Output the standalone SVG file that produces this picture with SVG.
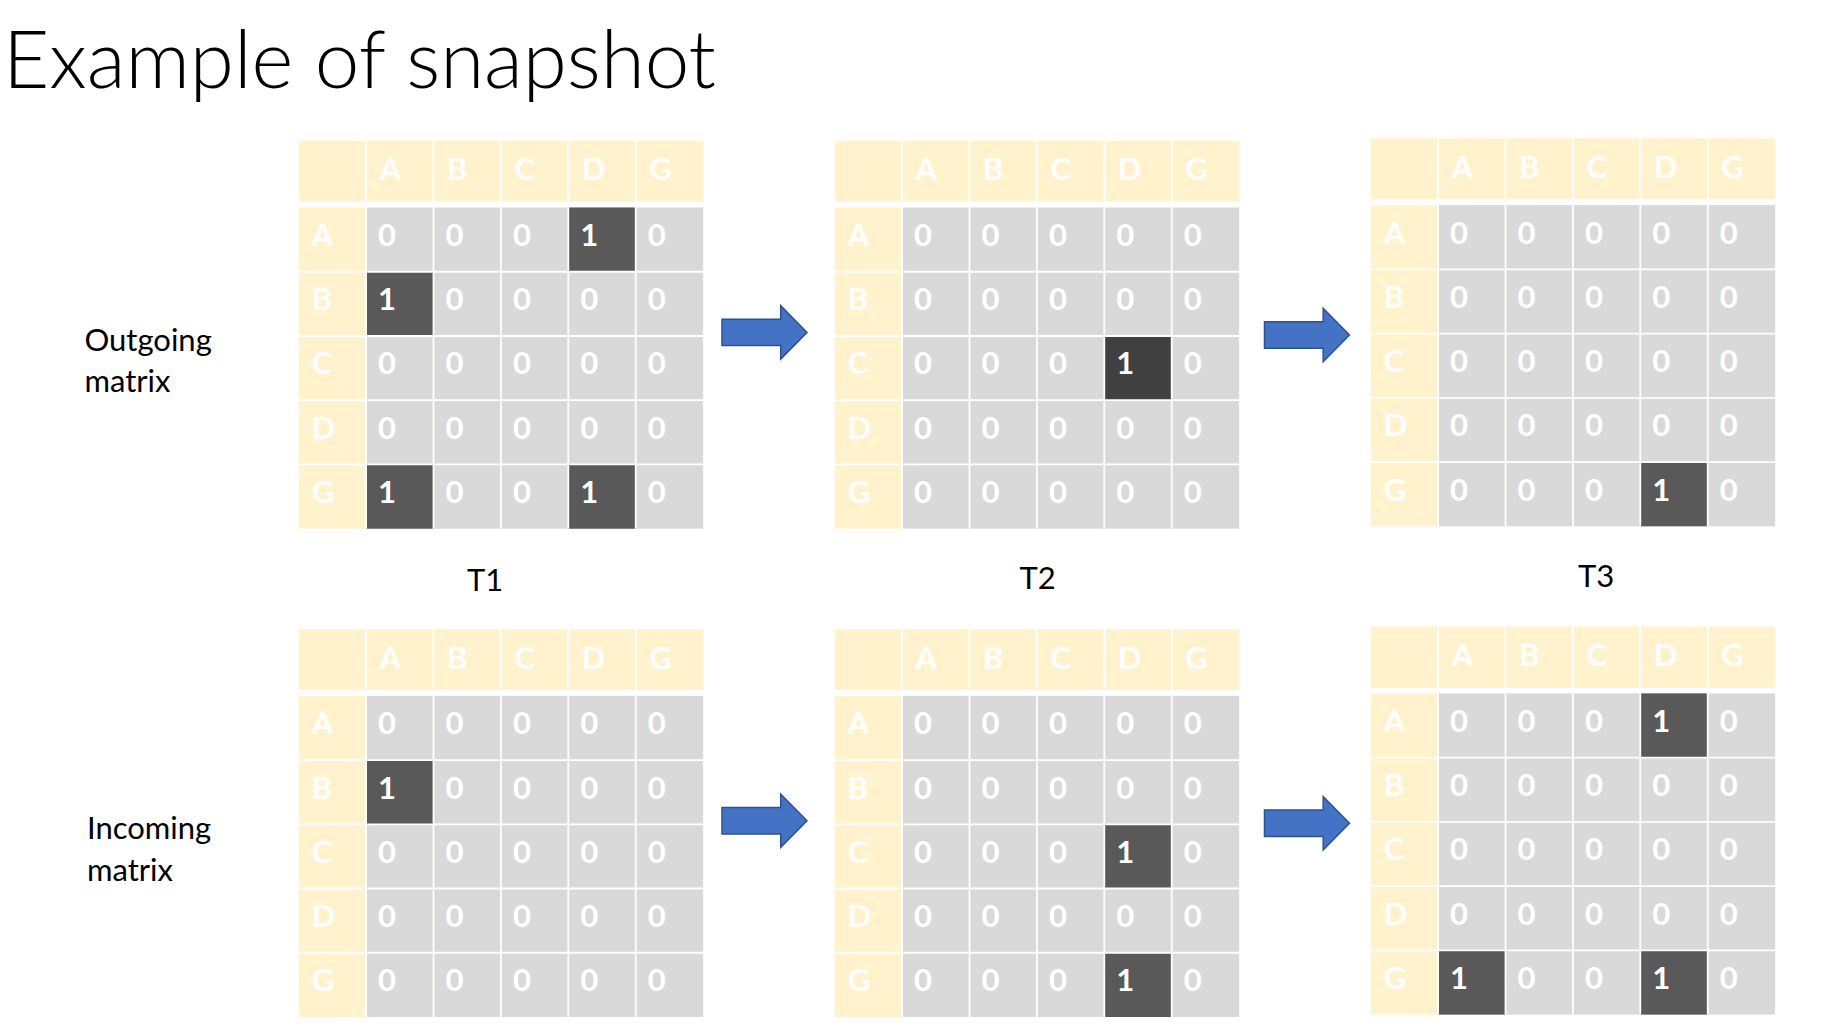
<svg xmlns="http://www.w3.org/2000/svg" xmlns:xlink="http://www.w3.org/1999/xlink" width="1840" height="1035" viewBox="0 0 1840 1035">
<style>
  .yl { fill: #FFF2CC; }
  .gr { fill: #D9D9D9; }
  .dk { fill: #595959; }
  .dk2 { fill: #404040; }
  .gl { stroke: #FFFFFF; stroke-width: 1.8; fill: none; }
  .t { font-family: "Lato", "Open Sans", "Liberation Sans", sans-serif; font-weight: 700; font-size: 31px; fill: #FFFFFF; }
  .lbl { font-family: "Lato", "Open Sans", "Liberation Sans", sans-serif; font-weight: 400; font-size: 31px; fill: #000000; }
  .title { font-family: "Lato", "Open Sans", "Liberation Sans", sans-serif; font-weight: 300; font-size: 80px; fill: #000000; }
  .arrow { fill: #4472C4; stroke: #2F528F; stroke-width: 1.5; }
</style>
<defs>
  <g id="bg">
    <rect class="yl" x="0" y="0" width="404.4" height="61"/>
    <rect class="yl" x="0" y="66.8" width="67.4" height="321.2"/>
    <rect class="gr" x="67.4" y="66.8" width="337" height="321.2"/>
  </g>
  <g id="grid">
    <path class="gl" d="M67.4,0V388M134.8,0V388M202.2,0V388M269.6,0V388M337,0V388M0,131.04H404.4M0,195.28H404.4M0,259.52H404.4M0,323.76H404.4"/>
  </g>
  <g id="labels">
    <text class="t" x="80.9" y="39.5">A</text>
    <text class="t" x="148.3" y="39.5">B</text>
    <text class="t" x="215.7" y="39.5">C</text>
    <text class="t" x="283.1" y="39.5">D</text>
    <text class="t" x="350.5" y="39.5">G</text>
    <text class="t" x="13" y="105.3">A</text>
    <text class="t" x="13" y="169.5">B</text>
    <text class="t" x="13" y="233.8">C</text>
    <text class="t" x="13" y="298">D</text>
    <text class="t" x="13" y="362.3">G</text>
  </g>
  <path id="arr" d="M0,-13.2H58.7V-26.7L85,0L58.7,26.7V13.2H0Z"/>
</defs>

<g id="title">
  <text class="title" x="3" y="87.5" textLength="713" lengthAdjust="spacing">Example of snapshot</text>
</g>

<g id="label-outgoing">
  <text class="lbl" x="84.5" y="350.7">Outgoing</text>
  <text class="lbl" x="84.5" y="391.7">matrix</text>
</g>
<g id="label-incoming">
  <text class="lbl" x="87" y="839.3">Incoming</text>
  <text class="lbl" x="87" y="880.7">matrix</text>
</g>

<g id="label-t1"><text class="lbl" x="467" y="591">T1</text></g>
<g id="label-t2"><text class="lbl" x="1019.5" y="589">T2</text></g>
<g id="label-t3"><text class="lbl" x="1578" y="587">T3</text></g>

<!-- Outgoing T1 -->
<g id="out-t1" transform="translate(298.7,140.7)">
  <use xlink:href="#bg" href="#bg"/>
  <rect class="dk" x="269.6" y="66.8" width="67.4" height="64.24"/>
  <rect class="dk" x="67.4" y="131.04" width="67.4" height="64.24"/>
  <rect class="dk" x="67.4" y="323.76" width="67.4" height="64.24"/>
  <rect class="dk" x="269.6" y="323.76" width="67.4" height="64.24"/>
  <use xlink:href="#grid" href="#grid"/>
  <use xlink:href="#labels" href="#labels"/>
  <text class="t" x="79.4" y="105.3">0</text><text class="t" x="146.8" y="105.3">0</text><text class="t" x="214.2" y="105.3">0</text><text class="t" x="281.6" y="105.3">1</text><text class="t" x="349" y="105.3">0</text>
  <text class="t" x="79.4" y="169.5">1</text><text class="t" x="146.8" y="169.5">0</text><text class="t" x="214.2" y="169.5">0</text><text class="t" x="281.6" y="169.5">0</text><text class="t" x="349" y="169.5">0</text>
  <text class="t" x="79.4" y="233.8">0</text><text class="t" x="146.8" y="233.8">0</text><text class="t" x="214.2" y="233.8">0</text><text class="t" x="281.6" y="233.8">0</text><text class="t" x="349" y="233.8">0</text>
  <text class="t" x="79.4" y="298">0</text><text class="t" x="146.8" y="298">0</text><text class="t" x="214.2" y="298">0</text><text class="t" x="281.6" y="298">0</text><text class="t" x="349" y="298">0</text>
  <text class="t" x="79.4" y="362.3">1</text><text class="t" x="146.8" y="362.3">0</text><text class="t" x="214.2" y="362.3">0</text><text class="t" x="281.6" y="362.3">1</text><text class="t" x="349" y="362.3">0</text>
</g>

<!-- Outgoing T2 -->
<g id="out-t2" transform="translate(834.7,140.7)">
  <use xlink:href="#bg" href="#bg"/>
  <rect class="dk2" x="269.6" y="195.28" width="67.4" height="64.24"/>
  <use xlink:href="#grid" href="#grid"/>
  <use xlink:href="#labels" href="#labels"/>
  <text class="t" x="79.4" y="105.3">0</text><text class="t" x="146.8" y="105.3">0</text><text class="t" x="214.2" y="105.3">0</text><text class="t" x="281.6" y="105.3">0</text><text class="t" x="349" y="105.3">0</text>
  <text class="t" x="79.4" y="169.5">0</text><text class="t" x="146.8" y="169.5">0</text><text class="t" x="214.2" y="169.5">0</text><text class="t" x="281.6" y="169.5">0</text><text class="t" x="349" y="169.5">0</text>
  <text class="t" x="79.4" y="233.8">0</text><text class="t" x="146.8" y="233.8">0</text><text class="t" x="214.2" y="233.8">0</text><text class="t" x="281.6" y="233.8">1</text><text class="t" x="349" y="233.8">0</text>
  <text class="t" x="79.4" y="298">0</text><text class="t" x="146.8" y="298">0</text><text class="t" x="214.2" y="298">0</text><text class="t" x="281.6" y="298">0</text><text class="t" x="349" y="298">0</text>
  <text class="t" x="79.4" y="362.3">0</text><text class="t" x="146.8" y="362.3">0</text><text class="t" x="214.2" y="362.3">0</text><text class="t" x="281.6" y="362.3">0</text><text class="t" x="349" y="362.3">0</text>
</g>

<!-- Outgoing T3 -->
<g id="out-t3" transform="translate(1370.7,138.3)">
  <use xlink:href="#bg" href="#bg"/>
  <rect class="dk" x="269.6" y="323.76" width="67.4" height="64.24"/>
  <use xlink:href="#grid" href="#grid"/>
  <use xlink:href="#labels" href="#labels"/>
  <text class="t" x="79.4" y="105.3">0</text><text class="t" x="146.8" y="105.3">0</text><text class="t" x="214.2" y="105.3">0</text><text class="t" x="281.6" y="105.3">0</text><text class="t" x="349" y="105.3">0</text>
  <text class="t" x="79.4" y="169.5">0</text><text class="t" x="146.8" y="169.5">0</text><text class="t" x="214.2" y="169.5">0</text><text class="t" x="281.6" y="169.5">0</text><text class="t" x="349" y="169.5">0</text>
  <text class="t" x="79.4" y="233.8">0</text><text class="t" x="146.8" y="233.8">0</text><text class="t" x="214.2" y="233.8">0</text><text class="t" x="281.6" y="233.8">0</text><text class="t" x="349" y="233.8">0</text>
  <text class="t" x="79.4" y="298">0</text><text class="t" x="146.8" y="298">0</text><text class="t" x="214.2" y="298">0</text><text class="t" x="281.6" y="298">0</text><text class="t" x="349" y="298">0</text>
  <text class="t" x="79.4" y="362.3">0</text><text class="t" x="146.8" y="362.3">0</text><text class="t" x="214.2" y="362.3">0</text><text class="t" x="281.6" y="362.3">1</text><text class="t" x="349" y="362.3">0</text>
</g>

<!-- Incoming T1 -->
<g id="in-t1" transform="translate(298.7,629)">
  <use xlink:href="#bg" href="#bg"/>
  <rect class="dk" x="67.4" y="131.04" width="67.4" height="64.24"/>
  <use xlink:href="#grid" href="#grid"/>
  <use xlink:href="#labels" href="#labels"/>
  <text class="t" x="79.4" y="105.3">0</text><text class="t" x="146.8" y="105.3">0</text><text class="t" x="214.2" y="105.3">0</text><text class="t" x="281.6" y="105.3">0</text><text class="t" x="349" y="105.3">0</text>
  <text class="t" x="79.4" y="169.5">1</text><text class="t" x="146.8" y="169.5">0</text><text class="t" x="214.2" y="169.5">0</text><text class="t" x="281.6" y="169.5">0</text><text class="t" x="349" y="169.5">0</text>
  <text class="t" x="79.4" y="233.8">0</text><text class="t" x="146.8" y="233.8">0</text><text class="t" x="214.2" y="233.8">0</text><text class="t" x="281.6" y="233.8">0</text><text class="t" x="349" y="233.8">0</text>
  <text class="t" x="79.4" y="298">0</text><text class="t" x="146.8" y="298">0</text><text class="t" x="214.2" y="298">0</text><text class="t" x="281.6" y="298">0</text><text class="t" x="349" y="298">0</text>
  <text class="t" x="79.4" y="362.3">0</text><text class="t" x="146.8" y="362.3">0</text><text class="t" x="214.2" y="362.3">0</text><text class="t" x="281.6" y="362.3">0</text><text class="t" x="349" y="362.3">0</text>
</g>

<!-- Incoming T2 -->
<g id="in-t2" transform="translate(834.7,629)">
  <use xlink:href="#bg" href="#bg"/>
  <rect class="dk" x="269.6" y="195.28" width="67.4" height="64.24"/>
  <rect class="dk" x="269.6" y="323.76" width="67.4" height="64.24"/>
  <use xlink:href="#grid" href="#grid"/>
  <use xlink:href="#labels" href="#labels"/>
  <text class="t" x="79.4" y="105.3">0</text><text class="t" x="146.8" y="105.3">0</text><text class="t" x="214.2" y="105.3">0</text><text class="t" x="281.6" y="105.3">0</text><text class="t" x="349" y="105.3">0</text>
  <text class="t" x="79.4" y="169.5">0</text><text class="t" x="146.8" y="169.5">0</text><text class="t" x="214.2" y="169.5">0</text><text class="t" x="281.6" y="169.5">0</text><text class="t" x="349" y="169.5">0</text>
  <text class="t" x="79.4" y="233.8">0</text><text class="t" x="146.8" y="233.8">0</text><text class="t" x="214.2" y="233.8">0</text><text class="t" x="281.6" y="233.8">1</text><text class="t" x="349" y="233.8">0</text>
  <text class="t" x="79.4" y="298">0</text><text class="t" x="146.8" y="298">0</text><text class="t" x="214.2" y="298">0</text><text class="t" x="281.6" y="298">0</text><text class="t" x="349" y="298">0</text>
  <text class="t" x="79.4" y="362.3">0</text><text class="t" x="146.8" y="362.3">0</text><text class="t" x="214.2" y="362.3">0</text><text class="t" x="281.6" y="362.3">1</text><text class="t" x="349" y="362.3">0</text>
</g>

<!-- Incoming T3 -->
<g id="in-t3" transform="translate(1370.7,626.6)">
  <use xlink:href="#bg" href="#bg"/>
  <rect class="dk" x="269.6" y="66.8" width="67.4" height="64.24"/>
  <rect class="dk" x="67.4" y="323.76" width="67.4" height="64.24"/>
  <rect class="dk" x="269.6" y="323.76" width="67.4" height="64.24"/>
  <use xlink:href="#grid" href="#grid"/>
  <use xlink:href="#labels" href="#labels"/>
  <text class="t" x="79.4" y="105.3">0</text><text class="t" x="146.8" y="105.3">0</text><text class="t" x="214.2" y="105.3">0</text><text class="t" x="281.6" y="105.3">1</text><text class="t" x="349" y="105.3">0</text>
  <text class="t" x="79.4" y="169.5">0</text><text class="t" x="146.8" y="169.5">0</text><text class="t" x="214.2" y="169.5">0</text><text class="t" x="281.6" y="169.5">0</text><text class="t" x="349" y="169.5">0</text>
  <text class="t" x="79.4" y="233.8">0</text><text class="t" x="146.8" y="233.8">0</text><text class="t" x="214.2" y="233.8">0</text><text class="t" x="281.6" y="233.8">0</text><text class="t" x="349" y="233.8">0</text>
  <text class="t" x="79.4" y="298">0</text><text class="t" x="146.8" y="298">0</text><text class="t" x="214.2" y="298">0</text><text class="t" x="281.6" y="298">0</text><text class="t" x="349" y="298">0</text>
  <text class="t" x="79.4" y="362.3">1</text><text class="t" x="146.8" y="362.3">0</text><text class="t" x="214.2" y="362.3">0</text><text class="t" x="281.6" y="362.3">1</text><text class="t" x="349" y="362.3">0</text>
</g>

<g id="connectors">
  <use class="arrow" xlink:href="#arr" href="#arr" transform="translate(722,332.4)"/>
  <use class="arrow" xlink:href="#arr" href="#arr" transform="translate(1264.5,335)"/>
  <use class="arrow" xlink:href="#arr" href="#arr" transform="translate(722,820.7)"/>
  <use class="arrow" xlink:href="#arr" href="#arr" transform="translate(1264.5,823.3)"/>
</g>
</svg>
